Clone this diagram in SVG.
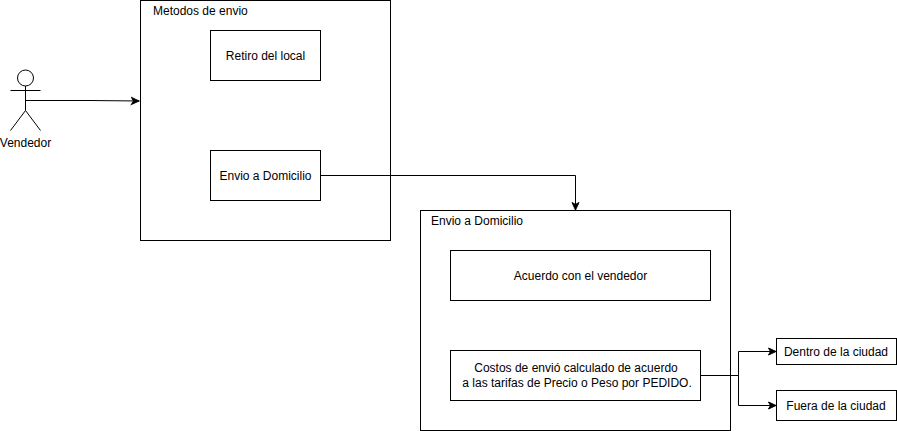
<svg xmlns="http://www.w3.org/2000/svg" width="897" height="431" viewBox="0 0 897 431">
<style>
.b{fill:#fff;stroke:#000;stroke-width:1}
.c{fill:none;stroke:#000;stroke-width:1}
text{font-family:"Liberation Sans",Arial,sans-serif;font-size:12px;fill:#000}
.m{text-anchor:middle}
</style>
<defs><marker id="a" markerUnits="userSpaceOnUse" markerWidth="10" markerHeight="10" refX="8.500" refY="5" orient="auto"><path d="M1 1.500L8.500 5L1 8.500L3 5Z" fill="#000" stroke="#000" stroke-width="1"/></marker></defs>
<rect width="897" height="431" fill="#fff"/>
<g id="metodos"><rect class="b" x="140.500" y="0.500" width="250" height="240"/><text x="153" y="15">Metodos de envio</text></g>
<g id="retiro"><rect class="b" x="210.500" y="30.500" width="110" height="50"/><text class="m" x="265.500" y="60">Retiro del local</text></g>
<g id="envio1"><rect class="b" x="210.500" y="150.500" width="110" height="50"/><text class="m" x="265.500" y="180">Envio a Domicilio</text></g>
<g id="envio2"><rect class="b" x="420.500" y="210.500" width="310" height="220"/><text x="431" y="225">Envio a Domicilio</text></g>
<g id="acuerdo"><rect class="b" x="450.500" y="250.500" width="260" height="50"/><text class="m" x="580.500" y="280">Acuerdo con el vendedor</text></g>
<g id="costos"><rect class="b" x="450.500" y="350.500" width="250" height="50"/><text class="m" x="576" y="372">Costos de envió calculado de acuerdo</text><text class="m" x="577" y="387">a las tarifas de Precio o Peso por PEDIDO.</text></g>
<g id="dentro"><rect class="b" x="776.500" y="338.500" width="120" height="26"/><text class="m" x="836" y="356">Dentro de la ciudad</text></g>
<g id="fuera"><rect class="b" x="776.500" y="390.500" width="120" height="30"/><text class="m" x="836" y="410">Fuera de la ciudad</text></g>
<g id="vendedor"><circle class="b" cx="25.500" cy="78" r="8"/><path class="c" d="M25.500 86V110.500M10.500 90.500H40.500M25.500 110.500L10.500 130.500M25.500 110.500L40.500 130.500"/><text class="m" x="25.500" y="147">Vendedor</text></g>
<g id="connectors">
<path class="c" d="M25.500 100.500H90L139 101" marker-end="url(#a)"/>
<path class="c" d="M320.500 175.500H575.500V210" marker-end="url(#a)"/>
<path class="c" d="M700.500 375.500H738.500V351.500H776" marker-end="url(#a)"/>
<path class="c" d="M700.500 375.500H738.500V405.500H776" marker-end="url(#a)"/>
</g>
</svg>
